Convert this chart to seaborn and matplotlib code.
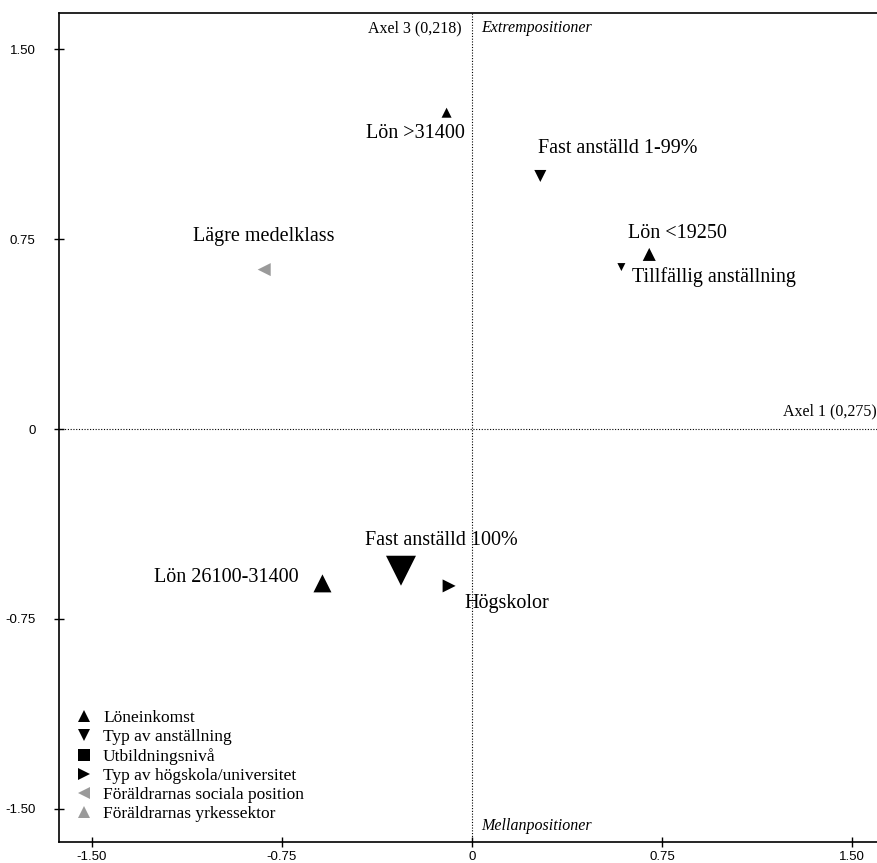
import pandas as pd
import matplotlib
matplotlib.use("Agg")
import matplotlib.pyplot as plt
from matplotlib.lines import Line2D
import seaborn as sns

# points in the plane of axis 1 and axis 3
labels = ["Lön >31400", "Fast anställd 1-99%", "Lägre medelklass", "Lön <19250",
          "Tillfällig anställning", "Lön 26100-31400", "Fast anställd 100%", "Högskolor"]
axel1 = [-0.10, 0.27, -0.82, 0.70, 0.59, -0.59, -0.28, -0.09]
axel3 = [1.25, 1.00, 0.63, 0.69, 0.64, -0.61, -0.56, -0.62]
grupp = ["Löneinkomst", "Typ av anställning", "Föräldrarnas sociala position", "Löneinkomst",
         "Typ av anställning", "Löneinkomst", "Typ av anställning", "Typ av högskola/universitet"]
vikt = [52, 75, 88, 88, 33, 168, 466, 88]

legend_groups = ["Löneinkomst", "Typ av anställning", "Utbildningsnivå",
                 "Typ av högskola/universitet", "Föräldrarnas sociala position",
                 "Föräldrarnas yrkessektor"]
ticks = [-1.50, -0.75, 0, 0.75, 1.50]
tick_labels = ["-1.50", "-0.75", "0", "0.75", "1.50"]

markers = {"Löneinkomst": "^", "Typ av anställning": "v", "Utbildningsnivå": "s",
           "Typ av högskola/universitet": ">", "Föräldrarnas sociala position": "<",
           "Föräldrarnas yrkessektor": "^"}
colors = {"Löneinkomst": "black", "Typ av anställning": "black", "Utbildningsnivå": "black",
          "Typ av högskola/universitet": "black", "Föräldrarnas sociala position": "#9a9a9a",
          "Föräldrarnas yrkessektor": "#9a9a9a"}

# label offsets (points) and alignment
offsets = {"Lön >31400": (13, -15, "right"), "Fast anställd 1-99%": (-2, 20, "left"),
           "Lägre medelklass": (-51, 24, "left"), "Lön <19250": (-15, 15, "left"),
           "Tillfällig anställning": (8, -7, "left"), "Lön 26100-31400": (-17, 4, "right"),
           "Fast anställd 100%": (29, 21.5, "center"), "Högskolor": (11, -13, "left")}

df = pd.DataFrame({"x": axel1, "y": axel3, "grupp": grupp, "vikt": vikt, "label": labels})

sns.set_style("ticks", {"axes.edgecolor": "black", "text.color": "black",
                        "xtick.color": "black", "ytick.color": "black"})
plt.rcParams["font.family"] = ["Liberation Sans", "DejaVu Sans"]
serif = ["Liberation Serif", "DejaVu Serif"]

fig = plt.figure(figsize=(8.78, 8.63), dpi=100)
ax = fig.add_axes([59 / 878, 21 / 863, 819 / 878, 829 / 863])

ax.axhline(0, color="black", lw=0.8, ls=(0, (1, 1.5)), zorder=1)
ax.axvline(0, color="black", lw=0.8, ls=(0, (1, 1.5)), zorder=1)

sns.scatterplot(data=df, x="x", y="y", hue="grupp", style="grupp", size="vikt",
                palette=colors, markers=markers, sizes=(min(vikt), max(vikt)),
                size_norm=(min(vikt), max(vikt)), edgecolor="none", linewidth=0,
                legend=False, ax=ax, zorder=3)

for lab, px, py in zip(labels, axel1, axel3):
    dx, dy, ha = offsets[lab]
    ax.annotate(lab, (px, py), xytext=(dx, dy), textcoords="offset points",
                ha=ha, va="center", fontsize=14.5, family=serif, color="black")

ax.text(-0.04, 1.585, "Axel 3 (0,218)", ha="right", va="center", fontsize=11.5,
        family=serif, color="black")
ax.text(0.038, 1.585, "Extrempositioner", ha="left", va="center", fontsize=11.5,
        family=serif, style="italic", color="black")
ax.text(0.038, -1.569, "Mellanpositioner", ha="left", va="center", fontsize=11.5,
        family=serif, style="italic", color="black")
ax.text(1.597, 0.068, "Axel 1 (0,275)", ha="right", va="center", fontsize=11.5,
        family=serif, color="black")

handles = [Line2D([], [], ls="none", marker=markers[g], color=colors[g], markersize=8,
                  markeredgewidth=0) for g in legend_groups]
leg = ax.legend(handles, legend_groups, loc="lower left", bbox_to_anchor=(0.004, 0.009),
                frameon=False, prop={"family": serif, "size": 12.5}, labelspacing=0.17,
                handletextpad=0.55, handlelength=1.1, borderaxespad=0.3)
for t in leg.get_texts():
    t.set_color("black")

ax.set_xlim(-1.630, 1.603)
ax.set_ylim(-1.632, 1.644)
ax.set_xticks(ticks)
ax.set_xticklabels(tick_labels)
ax.set_yticks(ticks)
ax.set_yticklabels(tick_labels)
ax.tick_params(axis="both", direction="inout", length=7.5, width=1, labelsize=9.5,
               colors="black")
ax.tick_params(axis="y", pad=13)
ax.tick_params(axis="x", pad=2.5)
ax.set_xlabel("")
ax.set_ylabel("")
for side in ["left", "bottom", "top"]:
    ax.spines[side].set_linewidth(1.2)
    ax.spines[side].set_color("black")
ax.spines["right"].set_visible(False)

fig.savefig("out.png", dpi=100)
